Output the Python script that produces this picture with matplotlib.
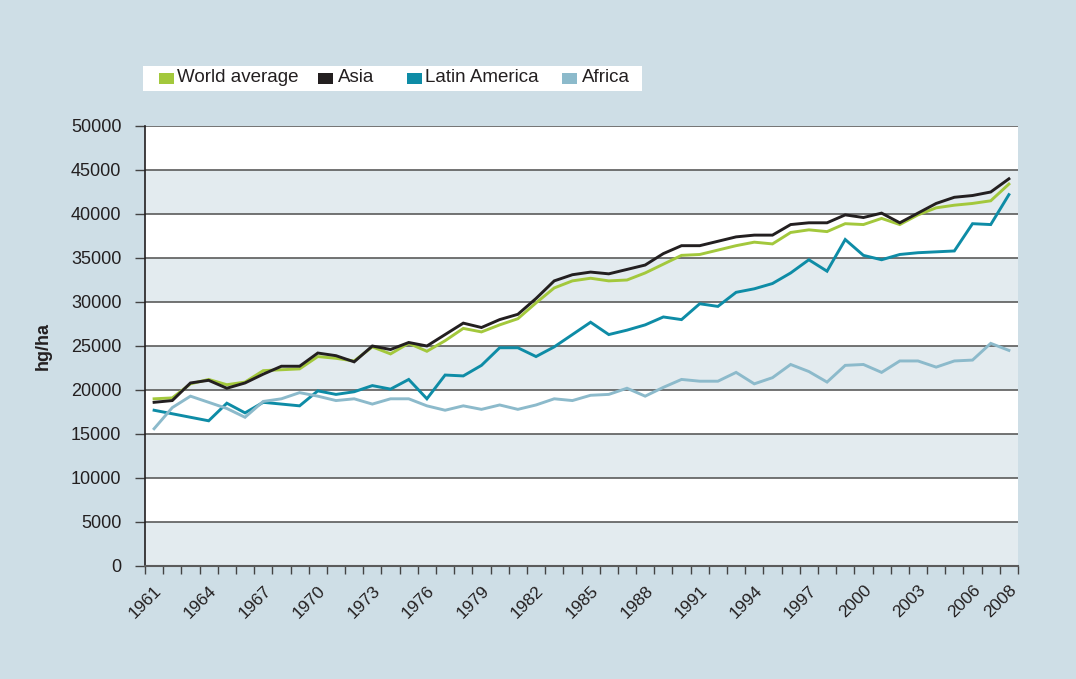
import numpy as np
import matplotlib.pyplot as plt
from matplotlib.patches import Rectangle

plt.rcParams['font.family'] = ['Liberation Sans Narrow', 'Liberation Sans', 'DejaVu Sans']

years = list(range(1961, 2009))

world = [19000, 19100, 20700, 21200, 20600, 20900, 22200, 22300, 22400, 23800,
         23600, 23300, 24900, 24100, 25300, 24400, 25600, 27000, 26600, 27400,
         28100, 29900, 31600, 32400, 32700, 32400, 32500, 33300, 34300, 35300,
         35400, 35900, 36400, 36800, 36600, 37900, 38200, 38000, 38900, 38800,
         39500, 38800, 39900, 40700, 41000, 41200, 41500, 43400]

asia = [18600, 18800, 20800, 21100, 20200, 20800, 21800, 22700, 22700, 24200,
        23900, 23200, 25000, 24600, 25400, 25000, 26300, 27600, 27100, 28000,
        28600, 30400, 32400, 33100, 33400, 33200, 33700, 34200, 35500, 36400,
        36400, 36900, 37400, 37600, 37600, 38800, 39000, 39000, 39900, 39600,
        40100, 39000, 40100, 41200, 41900, 42100, 42500, 44000]

latin = [17700, 17300, 16900, 16500, 18500, 17400, 18600, 18400, 18200, 19900,
         19500, 19800, 20500, 20100, 21200, 19000, 21700, 21600, 22800, 24800,
         24800, 23800, 24900, 26300, 27700, 26300, 26800, 27400, 28300, 28000,
         29800, 29500, 31100, 31500, 32100, 33300, 34800, 33500, 37100, 35300,
         34800, 35400, 35600, 35700, 35800, 38900, 38800, 42200]

africa = [15600, 18000, 19300, 18600, 17900, 16900, 18700, 19000, 19700, 19300,
          18800, 19000, 18400, 19000, 19000, 18200, 17700, 18200, 17800, 18300,
          17800, 18300, 19000, 18800, 19400, 19500, 20200, 19300, 20300, 21200,
          21000, 21000, 22000, 20700, 21400, 22900, 22100, 20900, 22800, 22900,
          22000, 23300, 23300, 22600, 23300, 23400, 25300, 24500]

series_names = ['World average', 'Asia', 'Latin America', 'Africa']
colors = ['#a3c83c', '#231f20', '#0e8ca6', '#8cbacb']

xlabels = [str(y) for y in range(1961, 2007, 3)] + ['2008']
xlabel_pos = list(range(1961, 2007, 3)) + [2008]
yticks = list(range(0, 50001, 5000))

bg = '#cedee6'
band = '#e3ebef'
W, H = 1076, 679

fig = plt.figure(figsize=(W / 100, H / 100), dpi=100)
fig.patch.set_facecolor(bg)
ax = fig.add_axes([145/W, 1 - 566/H, 873/W, 440/H])
ax.set_facecolor('white')

# alternating bands
for lo in yticks[:-1:2]:
    ax.axhspan(lo, lo + 5000, color=band, zorder=0, lw=0)
for t in yticks:
    ax.axhline(t, color='#5b5b5b', lw=1.2, zorder=1)

for vals, c in zip([world, asia, latin, africa], colors):
    ax.plot(years, vals, color=c, lw=2.1, zorder=3, solid_joinstyle='miter')

ax.set_xlim(1960.5, 2008.5)
ax.set_ylim(0, 50000)
ax.set_yticks(yticks)
ax.set_yticklabels([str(t) for t in yticks], fontsize=13, color='#231f20')
ax.tick_params(axis='y', direction='out', length=7, width=1, color='#444444', pad=10)

ax.set_xticks(xlabel_pos)
ax.set_xticklabels(xlabels, rotation=45, ha='right', rotation_mode='anchor',
                   fontsize=12.5, color='#231f20')
ax.tick_params(axis='x', which='major', length=0, pad=12)
ax.set_xticks(np.arange(1960.5, 2009, 1), minor=True)
ax.tick_params(axis='x', which='minor', direction='out', length=6, width=1, color='#444444')

for s in ['top', 'right']:
    ax.spines[s].set_visible(False)
ax.spines['left'].set_color('#231f20')
ax.spines['left'].set_linewidth(1.2)
ax.spines['bottom'].set_color('#5b5b5b')
ax.spines['bottom'].set_linewidth(1.5)

ax.set_ylabel('hg/ha', fontsize=13, fontweight='bold', color='#231f20', labelpad=14)

# legend drawn by hand in pixel positions of the original
fig.patches.append(Rectangle((143/W, 1 - 91/H), 499/W, 25/H, transform=fig.transFigure,
                             facecolor='white', edgecolor='none', zorder=1))
sq_x = [159, 318, 407, 562]
txt_x = [177, 338, 425, 582]
for name, c, sx, tx in zip(series_names, colors, sq_x, txt_x):
    fig.patches.append(Rectangle((sx/W, 1 - 84/H), 15/W, 11/H, transform=fig.transFigure,
                                 facecolor=c, edgecolor='none', zorder=2))
    fig.text(tx/W, 1 - 78/H, name, fontsize=13.5, color='#231f20', va='center', ha='left')

fig.savefig('out.png', dpi=100, facecolor=fig.get_facecolor())
